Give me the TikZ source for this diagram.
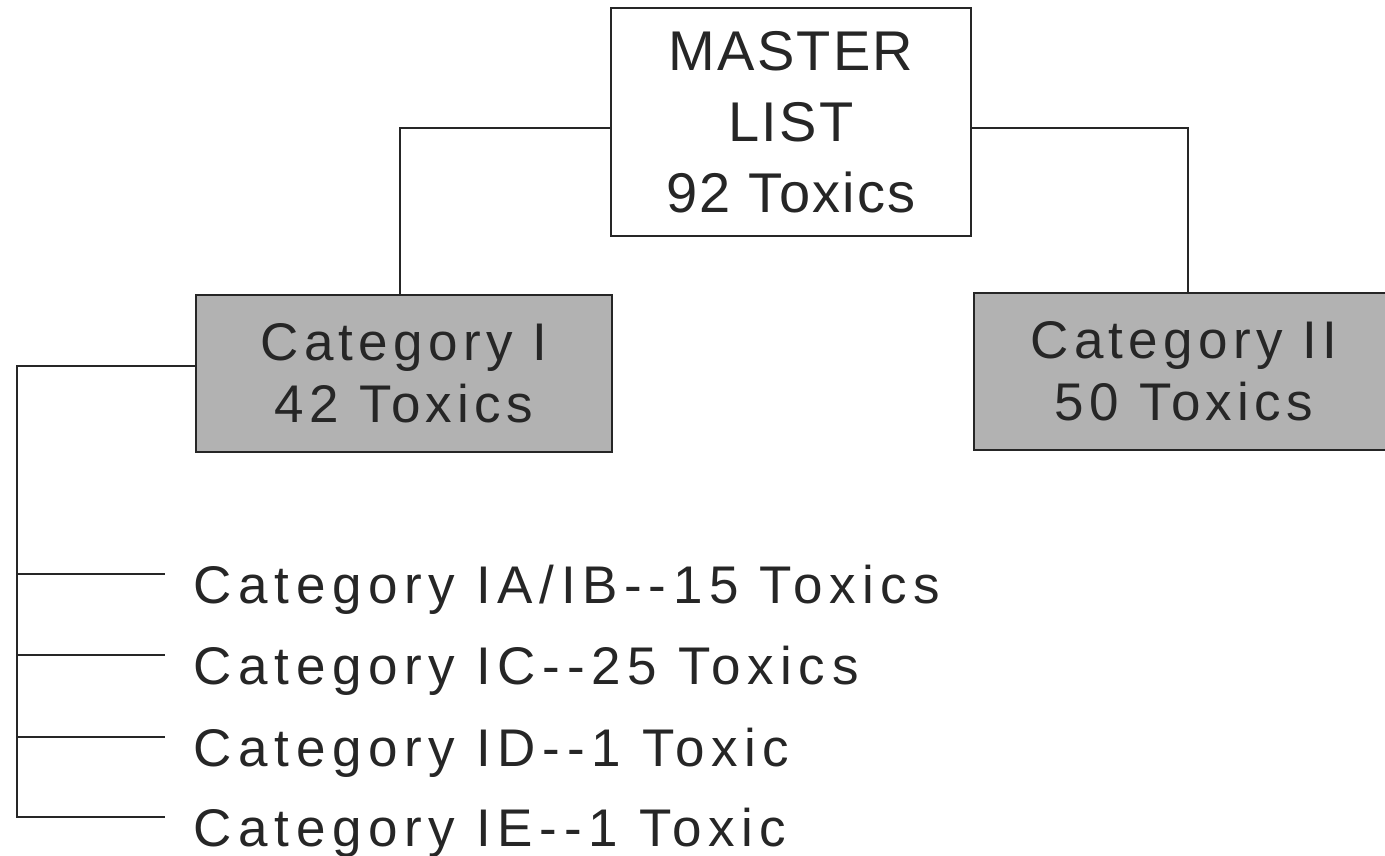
\documentclass[tikz,border=0pt]{standalone}
\usepackage{fontspec}
\setmainfont{Liberation Sans}
\newfontfamily\boxfont[LetterSpace=4]{Liberation Sans}
\newfontfamily\catfont[LetterSpace=10]{Liberation Sans}
\newfontfamily\listfont[LetterSpace=12.5]{Liberation Sans}
\begin{document}
\begin{tikzpicture}[x=1pt,y=-1pt,
  line width=1.6pt,
  txt/.style={text=black!85},
  masterbox/.style={draw=black!85, line width=2pt, minimum width=360pt, minimum height=228pt,
     align=center, inner sep=0pt, txt, font=\boxfont\fontsize{56}{71}\selectfont},
  catbox/.style={draw=black!85, fill=black!30, line width=2pt, minimum height=157pt,
     align=center, inner sep=0pt, txt, font=\catfont\fontsize{53}{62}\selectfont},
  item/.style={anchor=base west, inner sep=0pt, txt, font=\listfont\fontsize{53}{62}\selectfont},
  conn/.style={draw=black!85, line width=1.6pt}]
\useasboundingbox (0,0) rectangle (1385,856);
\clip (0,0) rectangle (1385,856);
\node[masterbox] (master) at (791,122) {MASTER\\LIST\\92 Toxics};
\node[catbox, minimum width=416pt] (cat1) at (404,373) {Category I\\42 Toxics};
\node[catbox, minimum width=420pt] (cat2) at (1184,371) {Category II\\50 Toxics};
\node[item] (ia) at (193,603) {Category IA/IB--15 Toxics};
\node[item] (ic) at (193,684) {Category IC--25 Toxics};
\node[item] (id) at (193,766) {Category ID--1 Toxic};
\node[item] (ie) at (193,846) {Category IE--1 Toxic};
\coordinate (b) at (17,366);
\draw[conn] ([yshift=-6pt]master.west) -| ([xshift=-4pt]cat1.north);
\draw[conn] ([yshift=-6pt]master.east) -| ([xshift=4pt]cat2.north);
\draw[conn] ([yshift=7pt]cat1.west) -- (b) -- ([yshift=29pt]b |- ie.base) -- ([shift={(-28pt,29pt)}]ie.base west);
\draw[conn] ([yshift=29pt]b |- ia.base) -- ([shift={(-28pt,29pt)}]ia.base west);
\draw[conn] ([yshift=29pt]b |- ic.base) -- ([shift={(-28pt,29pt)}]ic.base west);
\draw[conn] ([yshift=29pt]b |- id.base) -- ([shift={(-28pt,29pt)}]id.base west);
\end{tikzpicture}
\end{document}
